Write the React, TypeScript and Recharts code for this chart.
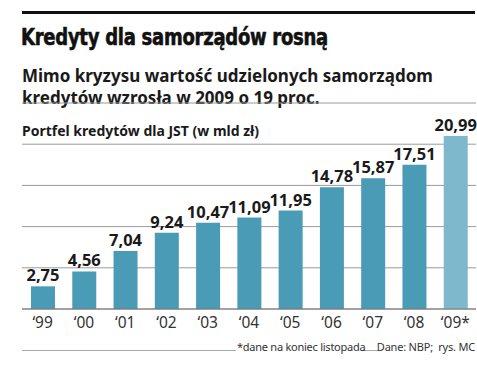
import { BarChart, Bar, XAxis, YAxis, CartesianGrid, LabelList, Cell } from "recharts";

const years = ["‘99", "‘00", "‘01", "‘02", "‘03", "‘04", "‘05", "‘06", "‘07", "‘08", "‘09*"];
const values = [2.75, 4.56, 7.04, 9.24, 10.47, 11.09, 11.95, 14.78, 15.87, 17.51, 20.99];
const yTicks = [0, 5, 10, 15, 20];

const data = years.map((year, i) => ({ year, value: values[i] }));

const fmt = (v: number) => v.toFixed(2).replace(".", ",");

const sans = "'Noto Sans', 'DejaVu Sans', sans-serif";

export default function App() {
  return (
    <div
      style={{
        position: "absolute",
        left: 0,
        top: 0,
        width: 477,
        height: 369,
        background: "#fff",
        fontFamily: sans,
        color: "#1a1a1a",
        overflow: "hidden",
      }}
    >
      <div style={{ position: "absolute", left: 22, top: 11, width: 453, height: 3, background: "#111" }} />
      <div
        style={{
          position: "absolute",
          left: 21,
          top: 24,
          fontFamily: "'DejaVu Sans Condensed', 'Liberation Sans Narrow', sans-serif",
          fontWeight: 700,
          fontSize: 23,
          letterSpacing: -0.3,
          whiteSpace: "nowrap",
          transform: "scaleX(0.87)",
          transformOrigin: "left top",
          color: "#111",
          WebkitTextStroke: "0.6px #111",
        }}
      >
        Kredyty dla samorządów rosną
      </div>
      <div
        style={{
          position: "absolute",
          left: 22,
          top: 65,
          fontWeight: 700,
          fontSize: 17,
          lineHeight: "22px",
          whiteSpace: "nowrap",
        }}
      >
        Mimo kryzysu wartość udzielonych samorządom
        <br />
        kredytów wzrosła w 2009 o 19 proc.
      </div>
      <div
        style={{
          position: "absolute",
          left: 22,
          top: 121,
          fontWeight: 700,
          fontSize: 14,
          whiteSpace: "nowrap",
        }}
      >
        Portfel kredytów dla JST (w mld zł)
      </div>

      <div style={{ position: "absolute", left: 0, top: 0 }}>
        <BarChart width={477} height={369} data={data} margin={{ top: 103, right: 1, bottom: 30, left: 22 }}>
          <CartesianGrid vertical={false} stroke="#9a9a9a" strokeWidth={1} />
          <YAxis hide domain={[0, 25]} ticks={yTicks} />
          <XAxis
            dataKey="year"
            height={30}
            tickLine={false}
            axisLine={{ stroke: "#777" }}
            tick={{ fontSize: 15.5, fill: "#333", fontFamily: sans }}
            interval={0}
          />
          <Bar dataKey="value" barSize={24} isAnimationActive={false}>
            {data.map((d, i) => (
              <Cell key={d.year} fill={i === data.length - 1 ? "#7db8cd" : "#4a9bb5"} />
            ))}
            <LabelList
              dataKey="value"
              position="top"
              offset={5}
              formatter={(v: any) => fmt(Number(v))}
              style={{ fontSize: 16.5, fontWeight: 700, fill: "#1a1a1a", fontFamily: sans }}
            />
          </Bar>
        </BarChart>
      </div>

      <div style={{ position: "absolute", left: 22, top: 350, width: 214, height: 1, background: "#aaa" }} />
      <div style={{ position: "absolute", left: 361, top: 350, width: 17, height: 1, background: "#aaa" }} />
      <div
        style={{
          position: "absolute",
          left: 237,
          top: 339,
          fontSize: 11,
          letterSpacing: -0.25,
          color: "#333",
          whiteSpace: "nowrap",
        }}
      >
        *dane na koniec listopada
      </div>
      <div
        style={{
          position: "absolute",
          right: 2,
          top: 339,
          fontSize: 11,
          letterSpacing: -0.2,
          color: "#333",
          whiteSpace: "nowrap",
        }}
      >
        Dane: NBP;&nbsp; rys. MC
      </div>
    </div>
  );
}
